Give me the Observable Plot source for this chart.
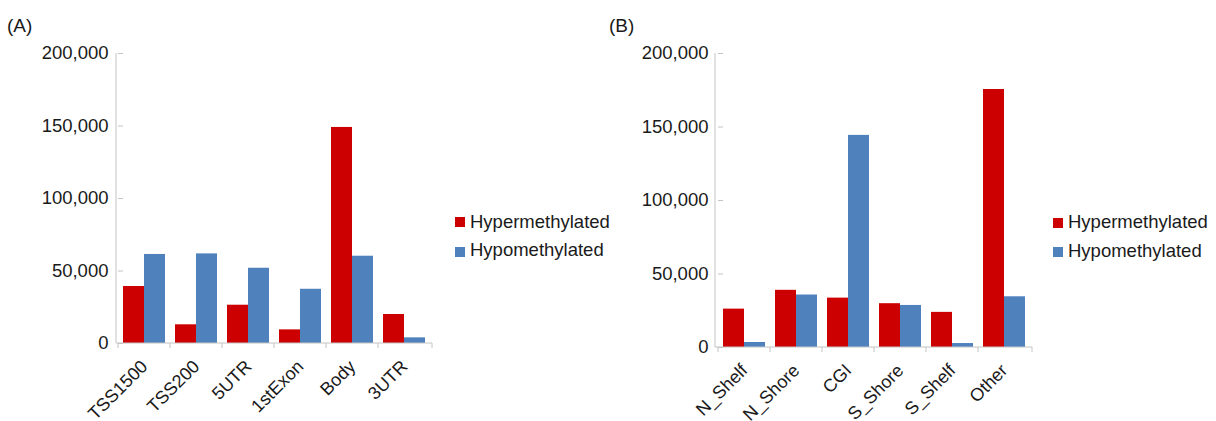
<!DOCTYPE html>
<html>
<head>
<meta charset="utf-8">
<script src="https://cdn.jsdelivr.net/npm/d3@7"></script>
<script src="https://cdn.jsdelivr.net/npm/@observablehq/plot@0.6"></script>
<style>
  body { margin: 0; background: #fff; }
  #chart { position: relative; width: 1216px; height: 421px; overflow: hidden;
           font-family: "Liberation Sans", Arial, sans-serif; color: #1a1a1a; }
  .panel { position: absolute; top: 0; }
  .tag { position: absolute; font-size: 19px; line-height: 19px; white-space: nowrap; }
  .legend-text { position: absolute; font-size: 18.5px; line-height: 18.5px; white-space: nowrap; }
  .swatch { position: absolute; width: 10px; height: 10px; }
</style>
</head>
<body>
<div id="chart"></div>
<script>
// Methylated CpG sites counted by gene region (A) and by CpG-island context (B)
const seriesNames = ["Hypermethylated", "Hypomethylated"];
const seriesColors = ["#CC0000", "#4F81BD"];
const yTicks = [0, 50000, 100000, 150000, 200000];

const regionsA = ["TSS1500", "TSS200", "5UTR", "1stExon", "Body", "3UTR"];
const hyperA   = [39300, 12900, 26400, 9400, 149000, 20000];
const hypoA    = [61400, 61800, 51900, 37400, 60200, 3900];

const regionsB = ["N_Shelf", "N_Shore", "CGI", "S_Shore", "S_Shelf", "Other"];
const hyperB   = [26100, 38900, 33600, 29800, 23900, 175500];
const hypoB    = [3400, 35700, 144300, 28600, 2700, 34500];

const axisGray = "#c4c4c4";
const chart = document.getElementById("chart");

function toRows(categories, hyper, hypo) {
  return categories.flatMap((c, i) => [
    {category: c, series: seriesNames[0], value: hyper[i]},
    {category: c, series: seriesNames[1], value: hypo[i]}
  ]);
}

function drawPanel(cfg) {
  const wrap = document.createElement("div");
  wrap.className = "panel";
  wrap.style.left = cfg.left + "px";
  chart.appendChild(wrap);

  const rows = toRows(cfg.categories, cfg.hyper, cfg.hypo);
  const plot = Plot.plot({
    width: 440,
    height: 421,
    marginLeft: cfg.marginLeft,
    marginRight: 8,
    marginTop: cfg.marginTop,
    marginBottom: cfg.marginBottom,
    style: {fontFamily: '"Liberation Sans", Arial, sans-serif', background: "transparent", overflow: "visible"},
    fx: {domain: cfg.categories, paddingInner: 0.2, paddingOuter: 0.1, label: null, axis: null},
    x: {domain: seriesNames, padding: 0, axis: null},
    y: {domain: [0, 200000], axis: null},
    color: {domain: seriesNames, range: seriesColors},
    marks: [
      Plot.barY(rows, {fx: "category", x: "series", y: "value", fill: "series"}),
      Plot.axisY({ticks: yTicks, tickFormat: d3.format(","), tickSize: 5, tickPadding: 10,
                  fontSize: 18.5, stroke: axisGray, fill: "#1a1a1a", label: null}),
      Plot.axisFx({anchor: "bottom", tickRotate: -45, tickSize: 0, tickPadding: 20,
                   fontSize: 18, fill: "#1a1a1a", label: null})
    ]
  });
  wrap.appendChild(plot);

  // Axis lines and the category-boundary ticks along the baseline
  const svg = d3.select(plot);
  const y = plot.scale("y"), fx = plot.scale("fx");
  const [x0, x1] = fx.range;
  const n = fx.domain.length;
  const step = fx.step ?? (x1 - x0) / (n - fx.paddingInner + 2 * fx.paddingOuter);
  const bw = fx.bandwidth ?? step * (1 - fx.paddingInner);
  const y0 = y.apply(0), yTop = y.apply(d3.max(yTicks));
  const g = svg.append("g").attr("stroke", axisGray).attr("stroke-width", 1).attr("fill", "none");
  g.append("line").attr("x1", x0).attr("x2", x0).attr("y1", y0).attr("y2", yTop);
  g.append("line").attr("x1", x0).attr("x2", x1).attr("y1", y0).attr("y2", y0);
  const edges = fx.domain.map(c => fx.apply(c) - (step - bw) / 2).concat([x1]);
  edges.forEach(e => g.append("line").attr("x1", e).attr("x2", e).attr("y1", y0).attr("y2", y0 + 5));

  // Panel tag
  const tag = document.createElement("div");
  tag.className = "tag";
  tag.textContent = cfg.tag;
  tag.style.left = cfg.tagLeft + "px";
  tag.style.top = "16px";
  chart.appendChild(tag);

  // Legend
  seriesNames.forEach((name, i) => {
    const sw = document.createElement("div");
    sw.className = "swatch";
    sw.style.background = seriesColors[i];
    sw.style.left = cfg.legendLeft + "px";
    sw.style.top = (cfg.legendTop + i * 29.5) + "px";
    chart.appendChild(sw);
    const t = document.createElement("div");
    t.className = "legend-text";
    t.textContent = name;
    t.style.left = (cfg.legendLeft + 15) + "px";
    t.style.top = (cfg.legendTop - 4.5 + i * 28.5) + "px";
    chart.appendChild(t);
  });
}

drawPanel({tag: "(A)", categories: regionsA, hyper: hyperA, hypo: hypoA,
           left: 0, marginLeft: 116, marginTop: 53, marginBottom: 78,
           tagLeft: 7, legendLeft: 455, legendTop: 217});
drawPanel({tag: "(B)", categories: regionsB, hyper: hyperB, hypo: hypoB,
           left: 600, marginLeft: 115, marginTop: 53, marginBottom: 74,
           tagLeft: 609, legendLeft: 1053, legendTop: 217.5});
</script>
</body>
</html>
